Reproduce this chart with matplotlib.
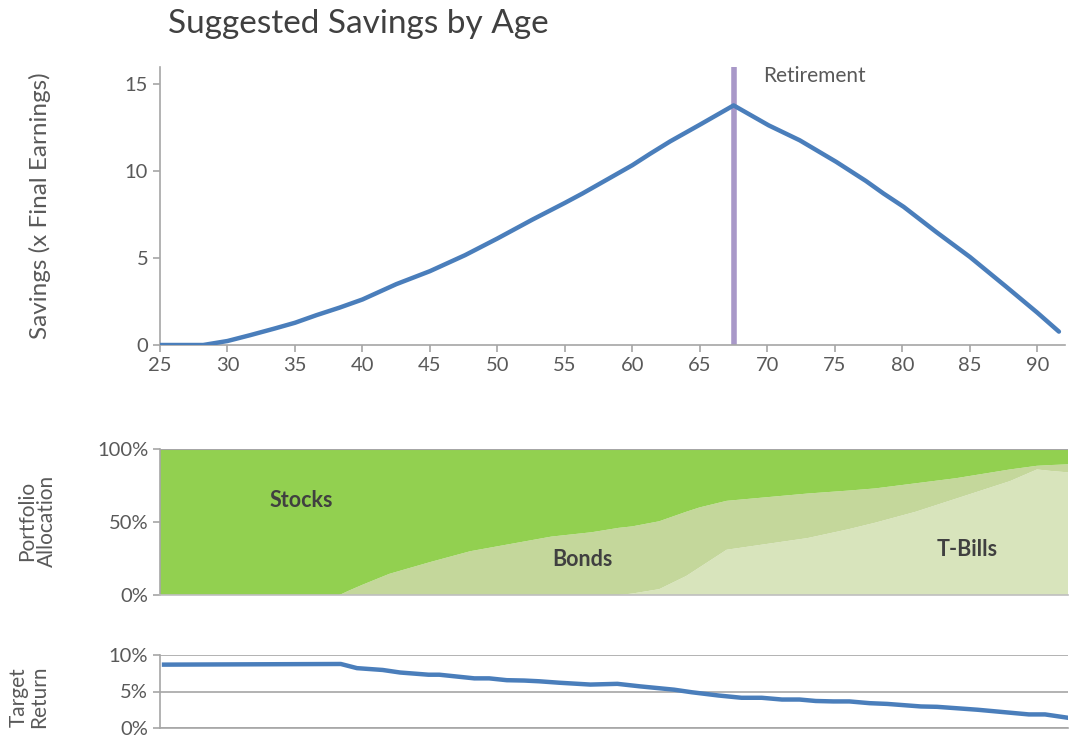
import matplotlib
matplotlib.use("Agg")
import matplotlib.pyplot as plt
import numpy as np

plt.rcParams["font.family"] = ["Lato", "DejaVu Sans"]

# savings curve (x final earnings)
sav_age = [25, 28.2, 30, 31.7, 33.5, 35, 36.6, 38.3, 40, 42.5, 45, 47.6, 50, 52.6, 55,
           56.3, 58.3, 60, 61.3, 62.8, 65, 67.5, 70.1, 72.4, 75.1, 77.3, 78.6, 80.1,
           82.5, 85, 87.7, 90, 91.6]
sav_val = [0, 0, 0.23, 0.57, 0.95, 1.28, 1.72, 2.15, 2.62, 3.5, 4.25, 5.17, 6.13, 7.22, 8.18,
           8.72, 9.6, 10.35, 11.0, 11.72, 12.68, 13.79, 12.64, 11.78, 10.54, 9.44, 8.72, 7.95,
           6.51, 5.07, 3.35, 1.86, 0.77]
retire_age = 67.5

# portfolio allocation (%)
alloc_age = [25, 38.3, 39, 40, 42, 45, 48, 51, 54, 57, 59, 60, 62, 64, 65, 67, 70, 73, 76, 78,
             81, 84, 86, 88, 90, 91, 92.3]
tbills = [0, 0, 0, 0, 0, 0, 0, 0, 0, 0, 0, 1, 4, 13, 19, 31, 35, 39, 45, 49.5,
          57, 66, 72, 78, 86, 85, 84]
bonds = [0, 0, 3, 7, 14.5, 22.5, 30, 35, 40, 43, 46, 46, 46.5, 44, 41, 33.5, 32, 30.5, 26.5, 23.5,
         19.5, 14, 11, 8, 2.5, 4, 5.5]
stocks = [100, 100, 97, 93, 85.5, 77.5, 70, 65, 60, 57, 54, 53, 49.5, 43, 40, 35.5, 33, 30.5, 28.5, 27,
          23.5, 20, 17, 14, 11.5, 11, 10.5]

# target return (%)
ret_age = [25.3, 38.4, 39.6, 41.5, 42.8, 44.9, 45.7, 48.3, 49.4, 50.7, 52, 53.1, 54.6, 56.9,
           58.9, 60.6, 63.1, 64.4, 66.4, 68.1, 69.6, 71.1, 72.4, 73.6, 74.9, 76.1, 77.6,
           78.9, 81.4, 82.6, 85.6, 89.4, 90.6, 92.3]
ret_val = [8.68, 8.77, 8.2, 7.95, 7.6, 7.3, 7.3, 6.8, 6.8, 6.55, 6.5, 6.4, 6.2, 5.95,
           6.05, 5.7, 5.25, 4.9, 4.45, 4.14, 4.14, 3.9, 3.9, 3.7, 3.64, 3.64, 3.4,
           3.3, 2.95, 2.9, 2.5, 1.86, 1.86, 1.4]

BLUE = "#4A7EBB"
GRAY = "#A6A6A6"
TXT = "#595959"

W, H = 1069, 738
fig = plt.figure(figsize=(W / 100, H / 100), dpi=100, facecolor="white")


def ax_px(l, t, r, b):
    return fig.add_axes([l / W, 1 - b / H, (r - l) / W, (b - t) / H])


def style(ax):
    for s in ("top", "right"):
        ax.spines[s].set_visible(False)
    for s in ("left", "bottom"):
        ax.spines[s].set_color(GRAY)
        ax.spines[s].set_linewidth(1.2)
    ax.tick_params(colors=GRAY, labelcolor=TXT, labelsize=14.5, width=1.2, length=5)


# ── top: savings ────────────────────────────────
ax1 = ax_px(160, 67, 1065, 345)
style(ax1)
ax1.plot(sav_age, sav_val, color=BLUE, lw=3.2, solid_capstyle="round", zorder=3)
ax1.axvline(retire_age, color="#A898C8", lw=4, zorder=2)
ax1.text(retire_age + 2.2, 16.05, "Retirement", fontsize=15, color=TXT, va="top")
ax1.set_xlim(25, 92.05)
ax1.set_ylim(0, 16)
ax1.set_xticks(np.arange(25, 95, 5))
ax1.set_yticks([0, 5, 10, 15])
fig.text(40 / W, 1 - 206 / H, "Savings (x Final Earnings)", fontsize=17.5, color=TXT,
         rotation=90, ha="center", va="center")
fig.text(168 / W, 1 - 24 / H, "Suggested Savings by Age", fontsize=24, color="#404040",
         va="center", ha="left")

# ── middle: allocation ─────────────────────────
ax2 = ax_px(160, 449, 1068, 595)
style(ax2)
ax2.stackplot(alloc_age, tbills, bonds, stocks,
              colors=["#D8E4BC", "#C4D79B", "#92D050"], lw=0)
ax2.axhline(100, color=GRAY, lw=1.5)
ax2.set_xlim(25, 92.3)
ax2.set_ylim(0, 100)
ax2.set_xticks([])
ax2.spines["bottom"].set_color("#BFBFBF")
ax2.set_yticks([0, 50, 100])
ax2.set_yticklabels(["0%", "50%", "100%"])
fig.text(37 / W, 1 - 521 / H, "Portfolio\nAllocation", fontsize=15, color=TXT,
         rotation=90, ha="center", va="center", linespacing=1.0)
for lbl, x, y in [("Stocks", 35.5, 65), ("Bonds", 56.3, 24), ("T-Bills", 84.8, 31)]:
    ax2.text(x, y, lbl, fontsize=15.5, fontweight="bold", color="#404040",
             ha="center", va="center")

# ── bottom: target return ──────────────────────
ax3 = ax_px(160, 655, 1068, 728)
style(ax3)
ax3.plot(ret_age, ret_val, color=BLUE, lw=3.2, zorder=3)
ax3.set_xlim(25, 92.3)
ax3.set_ylim(0, 10)
ax3.set_xticks([])
ax3.set_yticks([0, 5, 10])
ax3.set_yticklabels(["0%", "5%", "10%"])
ax3.grid(axis="y", color=GRAY, lw=1.2)
ax3.set_axisbelow(True)
fig.text(29 / W, 1 - 697 / H, "Target\nReturn", fontsize=15, color=TXT,
         rotation=90, ha="center", va="center", linespacing=1.0)

fig.savefig("out.png", dpi=100, facecolor="white")
